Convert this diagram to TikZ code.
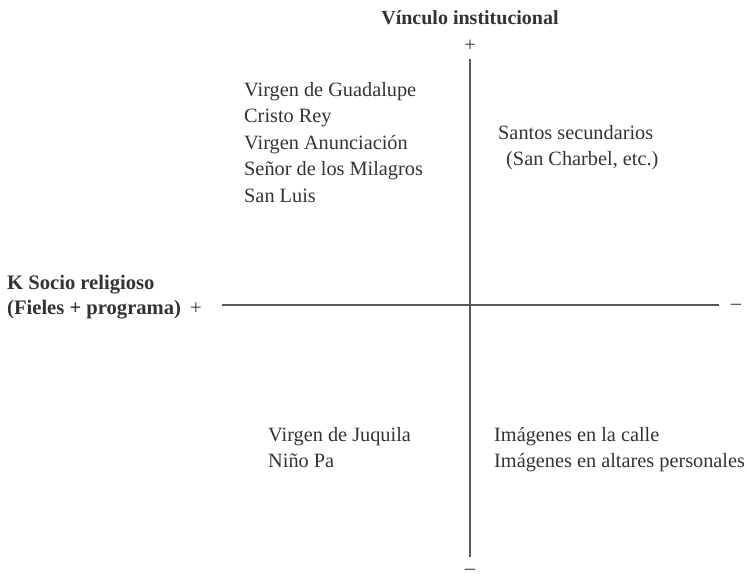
\documentclass[tikz,border=0pt]{standalone}
\usepackage{fontspec}
\setmainfont{Liberation Serif}
\usepackage{tikz}
\usetikzlibrary{positioning}

\begin{document}
\begin{tikzpicture}[
    x=1pt, y=-1pt,
    txt/.style={text=black!80, inner sep=0pt, font=\fontsize{20.3}{26.5}\selectfont},
    lst/.style={txt, anchor=north west, align=left},
    ttl/.style={txt, font=\fontsize{20}{25}\selectfont\bfseries},
    sgn/.style={txt},
    axis/.style={draw=black!65, line width=1.1pt}
]
  \useasboundingbox (0,0) rectangle (747,578);

  % Axis titles and signs
  \node[ttl] (vinc) at (470,18) {Vínculo institucional};
  \node[sgn] (ptop) at (470,46) {+};
  \node[sgn] (mbot) at (470,572) {\textendash};
  \node[ttl, anchor=north west, align=left, font=\fontsize{20.6}{25}\selectfont\bfseries] (ksoc) at (7,275)
      {K Socio religioso\\(Fieles + programa)\hspace{9pt}\mdseries +};
  \node[sgn] (mright) at (736,307) {\textendash};
  \coordinate (lend) at (222,305);

  % Axes
  \draw[axis] (ptop.south) ++(0,7) -- ([yshift=12pt]mbot.north);
  \draw[axis] (lend) -- ([xshift=-12pt]mright.west |- lend);

  % Quadrants
  \node[lst] (ul) at (244,82) {Virgen de Guadalupe\\Cristo Rey\\Virgen Anunciación\\Señor de los Milagros\\San Luis};
  \node[lst] (ur) at (498,125) {Santos secundarios\\\hspace*{8pt}(San Charbel, etc.)};
  \node[lst] (ll) at (268,427) {Virgen de Juquila\\Niño Pa};
  \node[lst] (lr) at (494,427) {Imágenes en la calle\\Imágenes en altares personales};
\end{tikzpicture}
\end{document}
